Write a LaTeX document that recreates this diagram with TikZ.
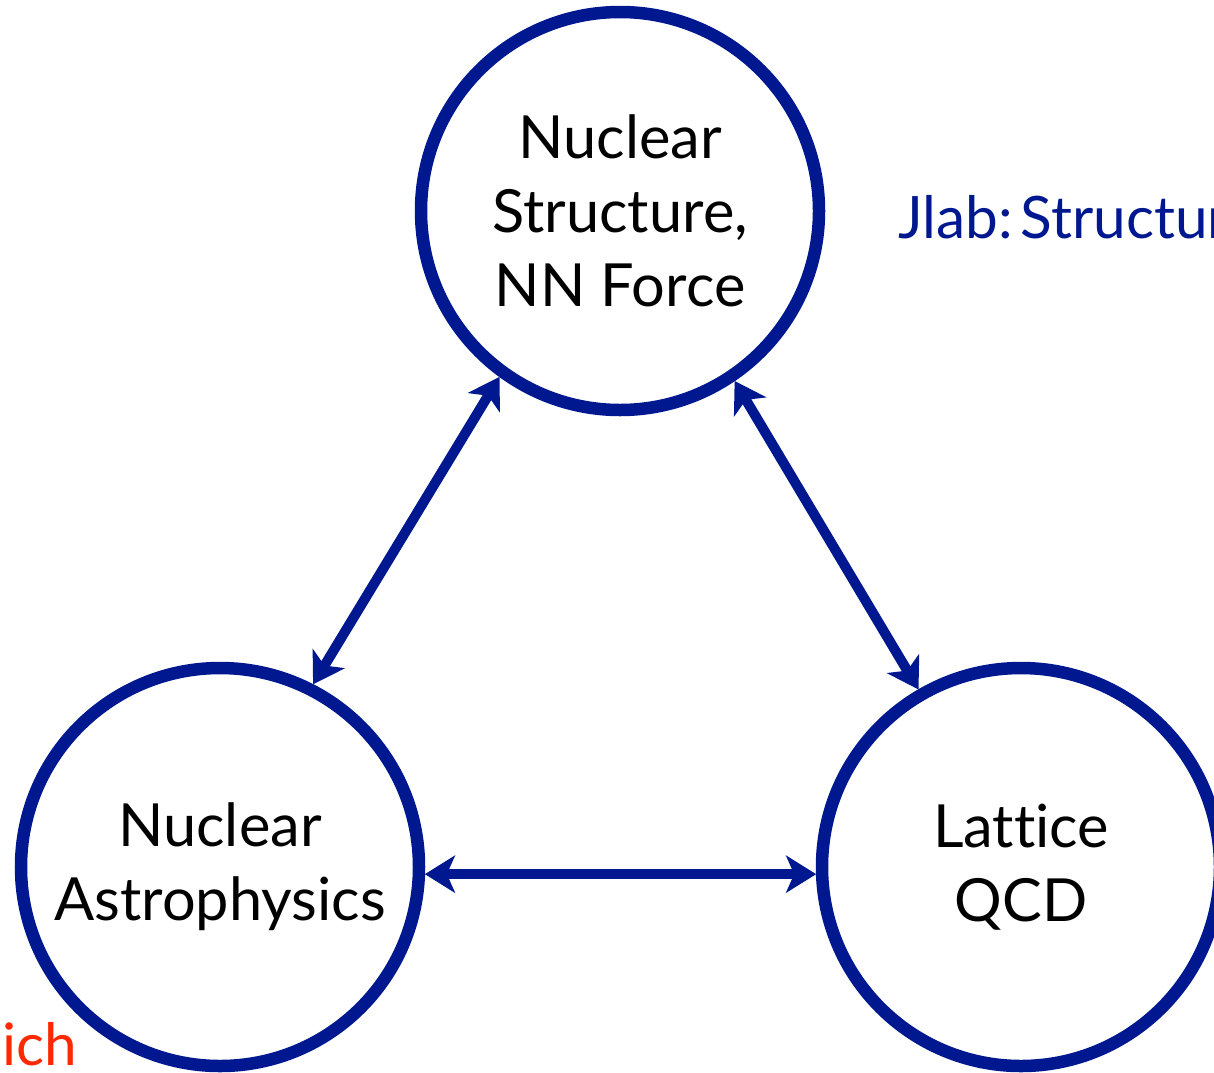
\documentclass[tikz,border=0pt]{standalone}
\usepackage{fontspec}
\setmainfont[Ligatures=NoCommon]{Lato}
\usetikzlibrary{arrows.meta}
\definecolor{ringblue}{RGB}{0,24,143}
\definecolor{labred}{RGB}{255,40,0}

\begin{document}
\begin{tikzpicture}[x=1pt,y=-1pt,
  topic/.style={circle, draw=ringblue, line width=12.5pt, minimum size=398pt,
    inner sep=0pt, outer sep=6pt, align=center,
    font=\fontsize{59.5}{74}\selectfont},
  link/.style={ringblue, line width=10pt, {Stealth[length=30pt,width=37pt,inset=8pt]}-{Stealth[length=30pt,width=37pt,inset=8pt]}},
  side/.style={anchor=base west, inner sep=0pt, font=\fontsize{58.5}{74}\selectfont}]
\useasboundingbox (0,0) rectangle (1214,1072);
\clip (0,0) rectangle (1214,1072);

% the three research areas
\node[topic] (nuc) at (620,211) {Nuclear\\Structure,\\NN Force};
\node[topic] (astro) at (220,867) {Nuclear\\Astrophysics};
\node[topic] (lqcd) at (1021,867) {Lattice\\QCD};

% two-way links between the areas
\draw[link] (astro.63.2) -- (nuc.-126.5);
\draw[link] (nuc.-56.8) -- (lqcd.120.7);
\draw[link] (astro.-2.66) -- (lqcd.182.66);

% side labels
\node[side, text=ringblue] (jlab) at (898,238) {Jlab:\hspace{-0.12em}\ Structur};
\node[side, text=labred] (place) at (2,1065) {ich};
\end{tikzpicture}
\end{document}
